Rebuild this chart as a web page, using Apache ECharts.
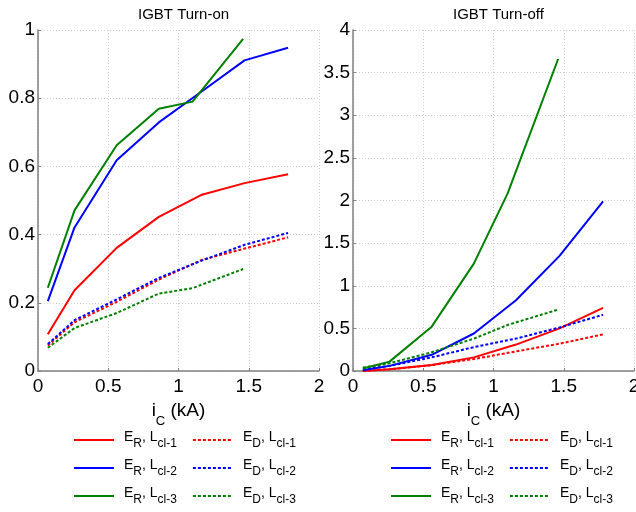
<!DOCTYPE html>
<html>
<head>
<meta charset="utf-8">
<script src="https://cdn.jsdelivr.net/npm/echarts@6/dist/echarts.min.js"></script>
<style>
  html, body { margin: 0; padding: 0; background: #fff; }
  #main { width: 636px; height: 512px; }
</style>
</head>
<body>
<div id="main"></div>
<script>
// current values (kA)
var xL12 = [0.07, 0.26, 0.56, 0.86, 1.16, 1.47, 1.78];
var xL3 = [0.07, 0.26, 0.56, 0.86, 1.10, 1.46];

// IGBT turn-on
var onER1 = [0.108, 0.237, 0.361, 0.452, 0.516, 0.551, 0.577];
var onED1 = [0.075, 0.143, 0.203, 0.268, 0.325, 0.359, 0.392];
var onER2 = [0.205, 0.421, 0.618, 0.729, 0.818, 0.911, 0.948];
var onED2 = [0.079, 0.149, 0.210, 0.273, 0.323, 0.370, 0.405];
var onER3 = [0.244, 0.471, 0.662, 0.769, 0.790, 0.974];
var onED3 = [0.068, 0.126, 0.170, 0.227, 0.243, 0.299];

// IGBT turn-off
var offER1 = [0.0, 0.02, 0.07, 0.16, 0.31, 0.50, 0.74];
var offED1 = [0.0, 0.02, 0.07, 0.14, 0.23, 0.32, 0.43];
var offER2 = [0.01, 0.06, 0.19, 0.44, 0.83, 1.35, 1.99];
var offED2 = [0.02, 0.06, 0.16, 0.28, 0.38, 0.51, 0.66];
var offER3 = [0.03, 0.11, 0.52, 1.26, 2.08, 3.66];
var offED3 = [0.04, 0.09, 0.22, 0.38, 0.54, 0.72];

var titles = ['IGBT Turn-on', 'IGBT Turn-off'];
var colors = ['#ff0000', '#0000ff', '#008000'];
var levels = ['cl-1', 'cl-2', 'cl-3'];

function pairs(xs, ys){
    var out = [];
    for (var i = 0; i < ys.length; i++) out.push([xs[i], ys[i]]);
    return out;
}
function makeName(e, l){ return 'E' + e + ', L' + l; }

var legendNames = [];
for (var k = 0; k < 3; k++){
    legendNames.push(makeName('R', levels[k]));
    legendNames.push(makeName('D', levels[k]));
}

var chartData = [
    [[onER1, onED1, xL12], [onER2, onED2, xL12], [onER3, onED3, xL3]],
    [[offER1, offED1, xL12], [offER2, offED2, xL12], [offER3, offED3, xL3]]
];

var series = [];
for (var c = 0; c < 2; c++){
    for (var k = 0; k < 3; k++){
        var d = chartData[c][k];
        series.push({
            name: makeName('R', levels[k]), type: 'line', xAxisIndex: c, yAxisIndex: c,
            symbol: 'none', data: pairs(d[2], d[0]),
            lineStyle: {color: colors[k], width: 2, type: 'solid'},
            itemStyle: {color: colors[k]}
        });
        series.push({
            name: makeName('D', levels[k]), type: 'line', xAxisIndex: c, yAxisIndex: c,
            symbol: 'none', data: pairs(d[2], d[1]),
            lineStyle: {color: colors[k], width: 2, type: [3, 2]},
            itemStyle: {color: colors[k]}
        });
    }
}

var font = 'Liberation Sans, Arial, sans-serif';
// 下标：行高撑开，主字靠上，下标靠底
var richLegend = {
    g: {width: 5, fontSize: 14, lineHeight: 20, verticalAlign: 'top'},
    t: {width: 7, fontSize: 14, lineHeight: 20, verticalAlign: 'top'},
    n: {fontSize: 14, fontFamily: font, color: '#000', lineHeight: 20, verticalAlign: 'top'},
    s: {fontSize: 12, fontFamily: font, color: '#000', lineHeight: 12, verticalAlign: 'bottom'}
};
function legendFmt(name){
    var m = name.match(/^E(\w), L(.+)$/);
    return '{g| }{n|E}{s|' + m[1] + '}{n|, L}{s|' + m[2] + '}{t| }';
}

var grids = [
    {left: 38, right: 317, top: 30, bottom: 141, outerBoundsMode: 'none'},
    {left: 353, right: 2, top: 30, bottom: 141, outerBoundsMode: 'none'}
];
var yMax = [1, 4];
var yInt = [0.2, 0.5];

function xAxisCfg(i){
    return {
        type: 'value', gridIndex: i, min: 0, max: 2, interval: 0.5,
        name: '{n|i}{s|C}{n| (kA)}', nameLocation: 'middle', nameGap: 25,
        nameTextStyle: {rich: {
            n: {fontSize: 19, fontFamily: font, color: '#000', lineHeight: 27, verticalAlign: 'top'},
            s: {fontSize: 13, fontFamily: font, color: '#000', lineHeight: 13, verticalAlign: 'bottom'}
        }},
        axisLine: {show: true, onZero: false, lineStyle: {color: '#808080', width: 1.5}},
        axisTick: {show: true, inside: true, length: 3, lineStyle: {color: '#808080'}},
        axisLabel: {fontSize: 19, fontFamily: font, color: '#000', margin: 6, showMaxLabel: true, showMinLabel: true},
        splitLine: {show: true, lineStyle: {color: '#d0d0d0', type: [1, 2], width: 1}}
    };
}
function yAxisCfg(i){
    return {
        type: 'value', gridIndex: i, min: 0, max: yMax[i], interval: yInt[i],
        axisLine: {show: true, onZero: false, lineStyle: {color: '#808080', width: 1.5}},
        axisTick: {show: true, inside: true, length: 3, lineStyle: {color: '#808080'}},
        axisLabel: {fontSize: 19, fontFamily: font, color: '#000', margin: 3, showMaxLabel: true, showMinLabel: true},
        splitLine: {show: true, lineStyle: {color: '#d0d0d0', type: [1, 2], width: 1}}
    };
}
function legendCfg(left){
    return {
        data: legendNames, left: left, top: 430, width: 240, orient: 'horizontal',
        itemWidth: 40, itemHeight: 12, itemGap: 8, padding: 0,
        itemStyle: {opacity: 0},
        formatter: legendFmt, textStyle: {rich: richLegend}, selectedMode: false
    };
}

var chart = echarts.init(document.getElementById('main'), null, {renderer: 'canvas'});
var option = {
    animation: false,
    backgroundColor: '#fff',
    title: [
        {text: titles[0], left: 133, top: 2, textStyle: {fontSize: 15, fontWeight: 'normal', color: '#000', fontFamily: font}},
        {text: titles[1], left: 448, top: 2, textStyle: {fontSize: 15, fontWeight: 'normal', color: '#000', fontFamily: font}}
    ],
    grid: grids,
    xAxis: [xAxisCfg(0), xAxisCfg(1)],
    yAxis: [yAxisCfg(0), yAxisCfg(1)],
    legend: [legendCfg(73), legendCfg(390)],
    series: series
};
chart.setOption(option);
</script>
</body>
</html>
